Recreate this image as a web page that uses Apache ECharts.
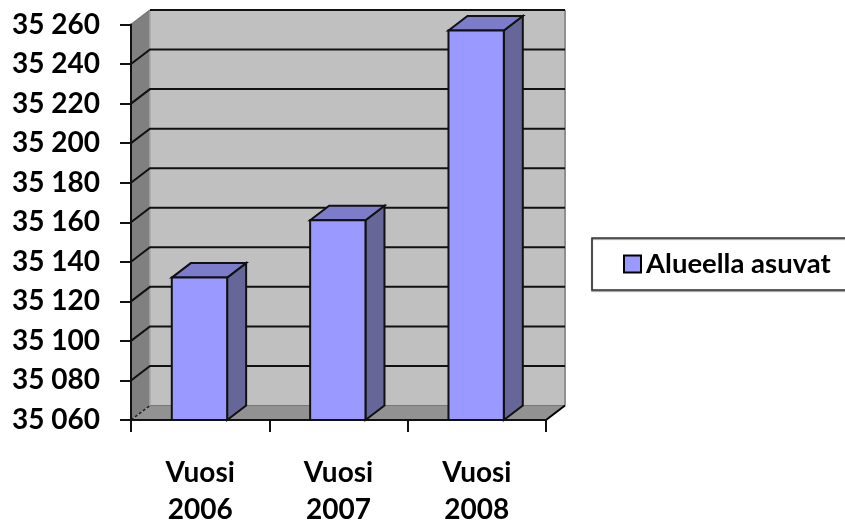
<!DOCTYPE html>
<html>
<head>
<meta charset="utf-8">
<style>html,body{margin:0;padding:0;background:#fff}#c{width:845px;height:526px}</style>
<script src="https://cdn.jsdelivr.net/npm/echarts@6/dist/echarts.min.js"></script>
</head>
<body>
<div id="c"></div>
<script>
var seriesName = 'Alueella asuvat';
var categories = ['Vuosi\n2006', 'Vuosi\n2007', 'Vuosi\n2008'];
var values = [35132, 35161, 35257];
var yTicks = [35060, 35080, 35100, 35120, 35140, 35160, 35180, 35200, 35220, 35240, 35260];

var DX = 19, DY = -14.5, BAR_FRACTION = 0.4;
var chart = echarts.init(document.getElementById('c'), null, {renderer: 'canvas'});
var FONT = 'Lato';

function poly(points, fill, stroke, width) {
  return {type: 'polygon', shape: {points: points},
    style: {fill: fill, stroke: stroke || null, lineWidth: width || 0, lineJoin: 'miter'}};
}
function line(points, stroke, width, dash) {
  return {type: 'polyline', shape: {points: points},
    style: {fill: null, stroke: stroke, lineWidth: width, lineDash: dash || null}};
}

function renderWalls(params, api) {
  var v = api.value(1);
  var band = api.size([1, 0])[0];
  var left = api.coord([0, v])[0] - band / 2;
  var right = left + band * categories.length;
  var y = api.coord([0, v])[1];
  var children = [];
  if (params.dataIndex === 0) {
    var top = api.coord([0, yTicks[yTicks.length - 1]])[1];
    children.push(poly([[left + DX, top + DY], [right + DX, top + DY], [right + DX, y + DY], [left + DX, y + DY]], '#C0C0C0'));
    children.push(poly([[left, top], [left + DX, top + DY], [left + DX, y + DY], [left, y]], '#808080'));
    children.push(poly([[left, y], [left + DX, y + DY], [right + DX, y + DY], [right, y]], '#929292'));
    children.push(line([[left + DX, top + DY], [left + DX, y + DY]], '#A8A8A8', 1.5));
    children.push(line([[right + DX, top + DY], [right + DX, y + DY]], '#909090', 2));
    children.push(line([[left, y], [left + DX, y + DY]], '#222', 1.5, [3, 2]));
    children.push(line([[left + DX, y + DY], [right + DX, y + DY]], '#777', 1));
    children.push(line([[right, y], [right + DX, y + DY]], '#000', 2));
  } else if (params.dataIndex === yTicks.length - 1) {
    children.push(line([[left, y], [left + DX, y + DY]], '#777', 1.5));
    children.push(line([[left + DX, y + DY], [right + DX, y + DY]], '#111', 2));
  } else {
    children.push(line([[left, y], [left + DX, y + DY], [right + DX, y + DY]], '#111', 2));
  }
  return {type: 'group', children: children};
}

function renderBar(params, api) {
  var i = api.value(0);
  var p = api.coord([i, api.value(1)]);
  var base = api.coord([i, yTicks[0]])[1];
  var w = api.size([1, 0])[0] * BAR_FRACTION;
  var l = p[0] - w / 2 - 0.7, r = l + w, t = p[1];
  return {type: 'group', children: [
    poly([[r, t], [r + DX, t + DY], [r + DX, base + DY], [r, base]], '#666699', '#111', 2),
    poly([[l, t], [l + DX, t + DY], [r + DX, t + DY], [r, t]], '#7C7CCB', '#111', 2),
    poly([[l, t], [r, t], [r, base], [l, base]], '#9999FF', '#111', 2)
  ]};
}

chart.setOption({
  animation: false,
  backgroundColor: '#fff',
  textStyle: {fontFamily: FONT},
  grid: {left: 131, right: 299, top: 24.5, bottom: 106, containLabel: false, outerBoundsMode: 'none'},
  legend: {
    left: 592, top: 238, orient: 'horizontal',
    data: [{name: seriesName, icon: 'rect',
      itemStyle: {color: '#9999FF', borderColor: '#000', borderWidth: 2}}],
    itemWidth: 17, itemHeight: 17, itemGap: 0,
    padding: [12, 40, 12, 31],
    borderColor: '#333', borderWidth: 1.5,
    shadowColor: 'rgba(0,0,0,0.5)', shadowOffsetY: 1, shadowBlur: 1,
    textStyle: {fontFamily: FONT, fontSize: 27.5, fontWeight: 'bold', color: '#000', padding: [0, 0, 0, 0]}
  },
  xAxis: {
    type: 'category', data: categories, z: 5,
    axisLine: {lineStyle: {color: '#111', width: 2}},
    axisTick: {show: true, length: 12, lineStyle: {color: '#111', width: 2}},
    axisLabel: {fontFamily: FONT, fontSize: 28, fontWeight: 'bold', color: '#000', margin: 34, lineHeight: 37}
  },
  yAxis: {
    type: 'value', min: yTicks[0], max: yTicks[yTicks.length - 1], interval: 20, z: 5,
    splitLine: {show: false},
    axisLine: {show: true, lineStyle: {color: '#111', width: 2}},
    axisTick: {show: true, length: 11, lineStyle: {color: '#111', width: 2}},
    axisLabel: {
      fontFamily: FONT, fontSize: 28, fontWeight: 'bold', color: '#000', margin: 31,
      formatter: function (v) { return String(v).replace(/(\d{2})(\d{3})/, '$1 $2'); }
    }
  },
  series: [
    {type: 'custom', name: 'walls', z: 1, silent: true, clip: false,
      data: yTicks.map(function (v) { return [0, v]; }), renderItem: renderWalls},
    {type: 'custom', name: seriesName, z: 3, clip: false,
      data: values.map(function (v, i) { return [i, v]; }), renderItem: renderBar,
      itemStyle: {color: '#9999FF'}}
  ]
});
</script>
</body>
</html>
